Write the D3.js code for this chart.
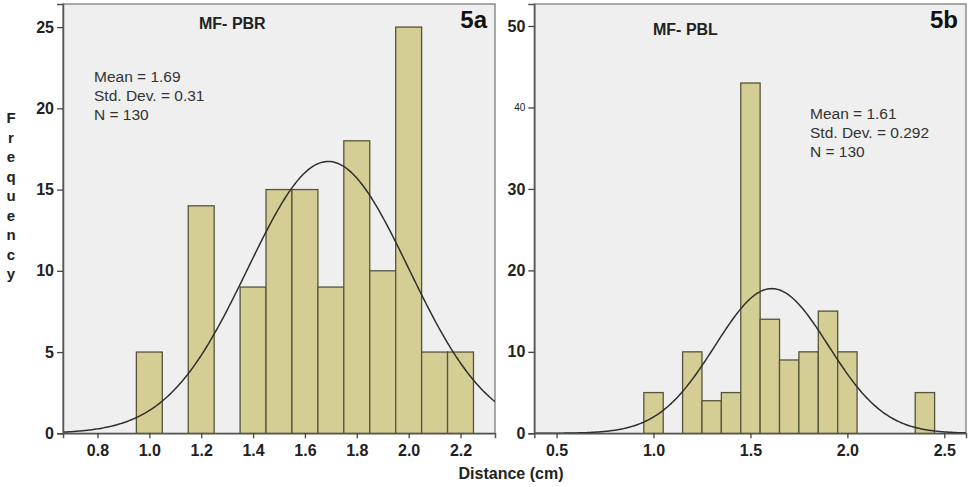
<!DOCTYPE html>
<html>
<head>
<meta charset="utf-8">
<script src="https://cdn.jsdelivr.net/npm/d3@7"></script>
<style>
  html, body { margin: 0; padding: 0; background: #ffffff; }
  svg { display: block; font-family: "Liberation Sans", Arial, sans-serif; }
</style>
</head>
<body>
<svg id="chart" width="969" height="487"></svg>
<script>
// Histogram bins (bin centres, cm) and counts for each panel
const binCentersA = [1.0, 1.1, 1.2, 1.3, 1.4, 1.5, 1.6, 1.7, 1.8, 1.9, 2.0, 2.1, 2.2];
const countsA     = [5,   0,   14,  0,   9,   15,  15,  9,   18,  10,  25,  5,   5];
const binCentersB = [1.0, 1.1, 1.2, 1.3, 1.4, 1.5, 1.6, 1.7, 1.8, 1.9, 2.0, 2.1, 2.2, 2.3, 2.4];
const countsB     = [5,   0,   10,  4,   5,   43,  14,  9,   10,  15,  10,  0,   0,   0,   5];

// Summary statistics shown in each panel
const statsA = { mean: 1.69, sd: 0.31, n: 130, sdText: "0.31" };
const statsB = { mean: 1.61, sd: 0.292, n: 130, sdText: "0.292" };

// Axis tick values
const xTicksA = [0.8, 1.0, 1.2, 1.4, 1.6, 1.8, 2.0, 2.2];
const yTicksA = [0, 5, 10, 15, 20, 25];
const xTicksB = [0.5, 1.0, 1.5, 2.0, 2.5];
const yTicksB = [0, 10, 20, 30, 40, 50];

const binWidth = 0.1;
const svg = d3.select("#chart");

const BAR_FILL = "#d4ce95";
const BAR_STROKE = "#55543a";
const PLOT_BG = "#efefef";

function drawPanel(cfg) {
  const { left, right, top, bottom, xDomain, yMax, centers, counts, stats,
          xTicks, yTicks, title, tag, titleX, titleY, statsX, statsY, smallTicks, id } = cfg;

  const x = d3.scaleLinear().domain(xDomain).range([left, right]);
  const y = d3.scaleLinear().domain([0, yMax]).range([bottom, top]);
  const g = svg.append("g");

  // Plot background and frame
  g.append("rect")
    .attr("x", left).attr("y", top)
    .attr("width", right - left).attr("height", bottom - top)
    .attr("fill", PLOT_BG)
    .attr("stroke", "#8c8c8c").attr("stroke-width", 1.5);

  // Bars
  g.selectAll("rect.bar")
    .data(centers.map((c, i) => ({ c, v: counts[i] })).filter(d => d.v > 0))
    .join("rect")
    .attr("class", "bar")
    .attr("x", d => x(d.c - binWidth / 2))
    .attr("width", d => x(d.c + binWidth / 2) - x(d.c - binWidth / 2))
    .attr("y", d => y(d.v))
    .attr("height", d => y(0) - y(d.v))
    .attr("fill", BAR_FILL)
    .attr("stroke", BAR_STROKE)
    .attr("stroke-width", 1.3);

  // Fitted normal curve scaled to counts: N * binWidth * pdf(x)
  const clipId = "clip-" + id;
  svg.append("clipPath").attr("id", clipId)
    .append("rect").attr("x", left).attr("y", top)
    .attr("width", right - left).attr("height", bottom - top);

  const pdf = v => stats.n * binWidth / (stats.sd * Math.sqrt(2 * Math.PI)) *
                   Math.exp(-0.5 * Math.pow((v - stats.mean) / stats.sd, 2));
  const samples = d3.range(0, 301).map(i => xDomain[0] + (xDomain[1] - xDomain[0]) * i / 300);
  g.append("path")
    .datum(samples)
    .attr("clip-path", `url(#${clipId})`)
    .attr("fill", "none")
    .attr("stroke", "#2f2f2f")
    .attr("stroke-width", 1.5)
    .attr("d", d3.line().x(d => x(d)).y(d => y(pdf(d))));

  // Axes
  const yAxis = g.append("g")
    .attr("transform", `translate(${left},0)`)
    .call(d3.axisLeft(y).tickValues(yTicks).tickSize(6).tickPadding(3).tickFormat(d3.format("d")));
  yAxis.select(".domain").attr("stroke", "#555").attr("stroke-width", 1.5);
  yAxis.selectAll(".tick line").attr("stroke", "#444").attr("stroke-width", 1.3);
  yAxis.selectAll(".tick text")
    .attr("fill", "#222")
    .style("font-size", d => (smallTicks && smallTicks.includes(d)) ? "10px" : "16px")
    .style("font-weight", d => (smallTicks && smallTicks.includes(d)) ? "normal" : "bold");

  const xAxis = g.append("g")
    .attr("transform", `translate(0,${bottom})`)
    .call(d3.axisBottom(x).tickValues(xTicks).tickSize(5).tickPadding(6).tickFormat(d3.format(".1f")));
  xAxis.select(".domain").attr("stroke", "#555").attr("stroke-width", 1.5);
  xAxis.selectAll(".tick line").attr("stroke", "#444").attr("stroke-width", 1.3);
  xAxis.selectAll(".tick text")
    .attr("fill", "#222")
    .style("font-size", "16px").style("font-weight", "bold");

  // Panel title and tag
  g.append("text")
    .attr("x", titleX).attr("y", titleY)
    .attr("fill", "#222")
    .style("font-size", "16px").style("font-weight", "bold")
    .text(title);
  g.append("text")
    .attr("x", right - 8).attr("y", top + 24)
    .attr("text-anchor", "end")
    .attr("fill", "#111")
    .style("font-size", "24px").style("font-weight", "bold")
    .text(tag);

  // Statistics block
  const lines = [
    `Mean = ${stats.mean}`,
    `Std. Dev. = ${stats.sdText}`,
    `N = ${stats.n}`
  ];
  g.append("text")
    .attr("x", statsX).attr("y", statsY)
    .attr("fill", "#333")
    .style("font-size", "15.5px")
    .selectAll("tspan")
    .data(lines)
    .join("tspan")
    .attr("x", statsX)
    .attr("dy", (d, i) => i === 0 ? 0 : 18.8)
    .text(d => d);
}

drawPanel({
  id: "a",
  left: 63, right: 495, top: 4, bottom: 433.3,
  xDomain: [0.667, 2.333], yMax: 26.42,
  centers: binCentersA, counts: countsA, stats: statsA,
  xTicks: xTicksA, yTicks: yTicksA,
  title: "MF- PBR", tag: "5a",
  titleX: 199, titleY: 29,
  statsX: 94, statsY: 82
});

drawPanel({
  id: "b",
  left: 534.3, right: 966, top: 4, bottom: 433.3,
  xDomain: [0.385, 2.612], yMax: 52.7,
  centers: binCentersB, counts: countsB, stats: statsB,
  xTicks: xTicksB, yTicks: yTicksB, smallTicks: [40],
  title: "MF- PBL", tag: "5b",
  titleX: 653, titleY: 35,
  statsX: 810, statsY: 119
});

// Vertical stacked y-axis title
const yTitle = "Frequency".split("");
const letterY = d3.scalePoint().domain(d3.range(yTitle.length)).range([123, 279]);
svg.append("g")
  .selectAll("text")
  .data(yTitle)
  .join("text")
  .attr("x", 11)
  .attr("y", (d, i) => letterY(i))
  .attr("text-anchor", "middle")
  .attr("fill", "#222")
  .style("font-size", "15px").style("font-weight", "bold")
  .text(d => d);

// Shared x-axis title
svg.append("text")
  .attr("x", 511).attr("y", 479)
  .attr("text-anchor", "middle")
  .attr("fill", "#222")
  .style("font-size", "16px").style("font-weight", "bold")
  .text("Distance (cm)");
</script>
</body>
</html>
